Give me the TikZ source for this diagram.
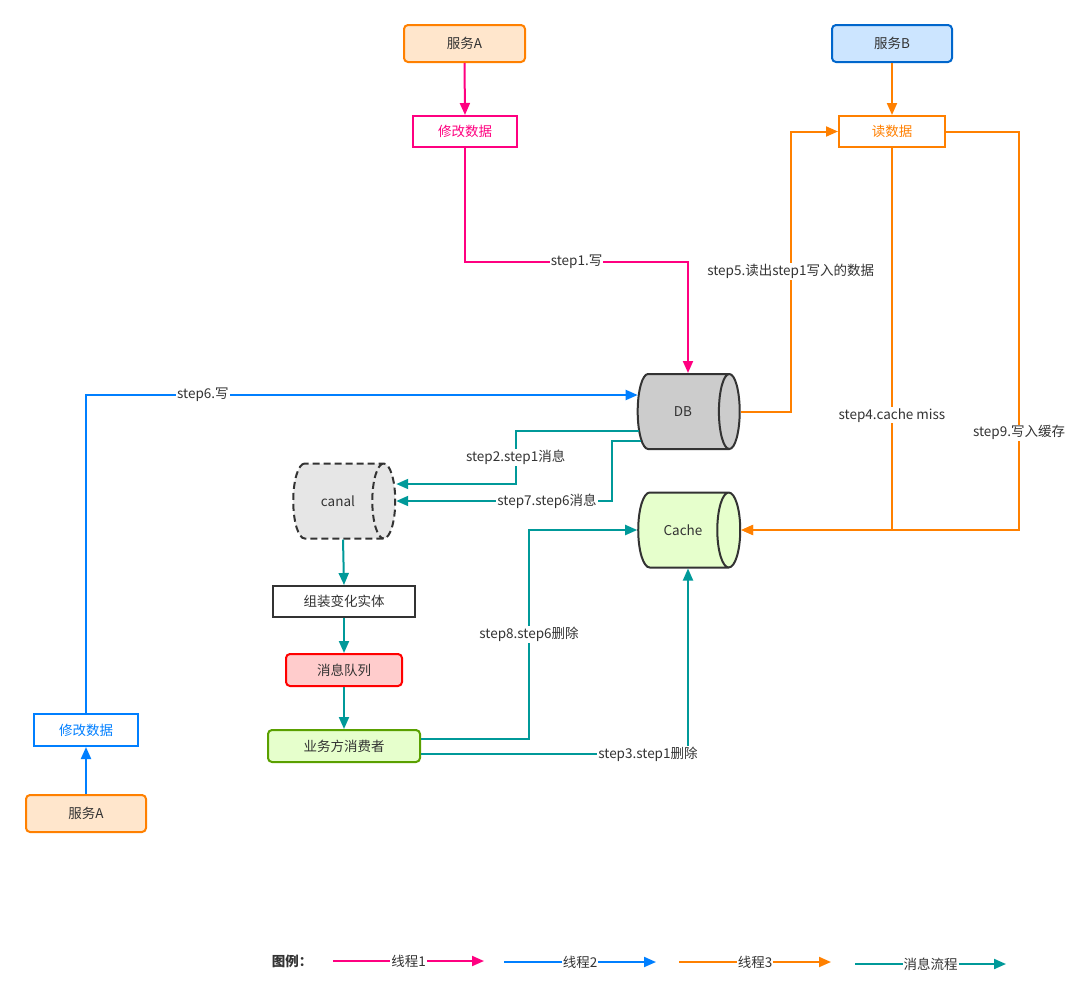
\documentclass[tikz,border=0pt]{standalone}
\usepackage{fontspec}
\setmainfont{Noto Sans CJK SC}
\usetikzlibrary{arrows.meta,shapes.geometric,calc}
\definecolor{cpink}{HTML}{FF0080}
\definecolor{cblue}{HTML}{007FFF}
\definecolor{corange}{HTML}{FF8000}
\definecolor{cteal}{HTML}{009999}
\definecolor{ctext}{HTML}{333333}
\definecolor{cAfill}{HTML}{FFE6CC}
\definecolor{cBfill}{HTML}{CCE5FF}
\definecolor{cBdraw}{HTML}{0066CC}
\definecolor{cgreenfill}{HTML}{E6FFCC}
\definecolor{cgreendraw}{HTML}{5AA000}
\definecolor{credfill}{HTML}{FFCCCC}
\definecolor{creddraw}{HTML}{FF0000}
\definecolor{cdbfill}{HTML}{CCCCCC}
\definecolor{ccanalfill}{HTML}{E6E6E6}
\begin{document}
\begin{tikzpicture}[x=1pt,y=-1pt,
  every node/.style={font=\fontsize{13.5}{15}\selectfont, text=ctext},
  box/.style={draw, line width=2pt, inner sep=0pt},
  rbox/.style={box, rounded corners=4pt},
  cyl/.style={shape=cylinder, draw=ctext, line width=2pt, shape border rotate=0,
    aspect=2.1, minimum width=75pt, minimum height=102pt, inner sep=0pt,
    cylinder uses custom fill, cylinder body fill=#1, cylinder end fill=#1},
  conn/.style={line width=2pt, -{Triangle[length=12pt,width=10pt]}},
  pinkarr/.style={conn, draw=cpink},
  bluearr/.style={conn, draw=cblue},
  orangearr/.style={conn, draw=corange},
  tealarr/.style={conn, draw=cteal},
  lbl/.style={fill=white, inner sep=1pt, text=ctext}
]
\useasboundingbox (0,0) rectangle (1080,1002);

% nodes
\node[rbox, draw=corange, fill=cAfill, minimum width=121pt, minimum height=37pt] (srvA) at (464.5,43.5) {服务A};
\node[box, draw=cpink, text=cpink, fill=white, minimum width=104pt, minimum height=31pt] (mod1) at (465,131.5) {修改数据};
\node[rbox, draw=cBdraw, fill=cBfill, minimum width=120pt, minimum height=37pt] (srvB) at (892,43.5) {服务B};
\node[box, draw=corange, text=corange, fill=white, minimum width=106pt, minimum height=31pt] (rd) at (892,131.5) {读数据};

\node[cyl=cdbfill] (db) at (683,411.5) {DB};
\node[cyl=ccanalfill, dash pattern=on 7pt off 4pt] (canal) at (338,501) {canal};
\node[cyl=cgreenfill] (cache) at (683,530) {Cache};

\node[box, draw=ctext, fill=white, minimum width=142pt, minimum height=31pt] (asm) at (344,601.5) {组装变化实体};
\node[rbox, draw=creddraw, fill=credfill, minimum width=116pt, minimum height=32pt] (mq) at (344,670) {消息队列};
\node[rbox, draw=cgreendraw, fill=cgreenfill, minimum width=152pt, minimum height=32pt] (cons) at (344,746) {业务方消费者};

\node[box, draw=cblue, text=cblue, fill=white, minimum width=104pt, minimum height=32pt] (mod2) at (86,730) {修改数据};
\node[rbox, draw=corange, fill=cAfill, minimum width=120pt, minimum height=37pt] (srvA2) at (86,813.5) {服务A};

% thread 1 (pink)
\draw[pinkarr] (srvA.south) -- (mod1.north);
\draw[pinkarr] (mod1.south) -- ++(0,114) -| node[lbl,pos=0.25]{step1.写} ($(db.north)+(5,0)$);

% thread 2 (blue)
\draw[bluearr] (srvA2.north) -- (mod2.south);
\draw[bluearr] (mod2.north) |- node[lbl,pos=0.606]{step6.写} ($(db.west)+(1,-16.5)$);

% thread 3 (orange)
\draw[orangearr] (srvB.south) -- (rd.north);
\draw[orangearr] (db.east) -- ++(50,0) |- node[lbl,pos=0.25]{step5.读出step1写入的数据} (rd.west);
\draw[orangearr] (rd.south) |- node[lbl,pos=0.35]{step4.cache miss} (cache.east);
\draw[orangearr] (rd.east) -- ++(73,0) |- node[lbl,pos=0.378]{step9.写入缓存} (cache.east);

% message flow (teal)
\draw[tealarr] ($(db.west)+(2,19.5)$) -- ++(-123,0) |- node[lbl,pos=0.25]{step2.step1消息} ($(canal.east)+(0,-17)$);
\draw[tealarr] ($(db.west)+(4,29.5)$) -- ++(-29,0) |- node[lbl,pos=0.65]{step7.step6消息} (canal.east);
\draw[tealarr] ($(canal.south)+(5,0)$) -- (asm.north);
\draw[tealarr] (asm.south) -- (mq.north);
\draw[tealarr] (mq.south) -- (cons.north);
\draw[tealarr] ($(cons.east)+(0,-7)$) -- ++(108,0) |- node[lbl,pos=0.25]{step8.step6删除} (cache.west);
\draw[tealarr] ($(cons.east)+(0,8)$) -| node[lbl,pos=0.425]{step3.step1删除} ($(cache.south)+(5,0)$);

% legend
\node[font=\fontsize{13.5}{15}\selectfont\bfseries] (lg) at (292,961) {图例：};
\coordinate (l1a) at (333,961); \coordinate (l1b) at (484,961);
\coordinate (l2a) at (504,962); \coordinate (l2b) at (656,962);
\coordinate (l3a) at (679,962); \coordinate (l3b) at (831,962);
\coordinate (l4a) at (855,964); \coordinate (l4b) at (1006,964);
\draw[pinkarr] (l1a) -- node[lbl]{线程1} (l1b);
\draw[bluearr] (l2a) -- node[lbl]{线程2} (l2b);
\draw[orangearr] (l3a) -- node[lbl]{线程3} (l3b);
\draw[tealarr] (l4a) -- node[lbl]{消息流程} (l4b);
\end{tikzpicture}
\end{document}
